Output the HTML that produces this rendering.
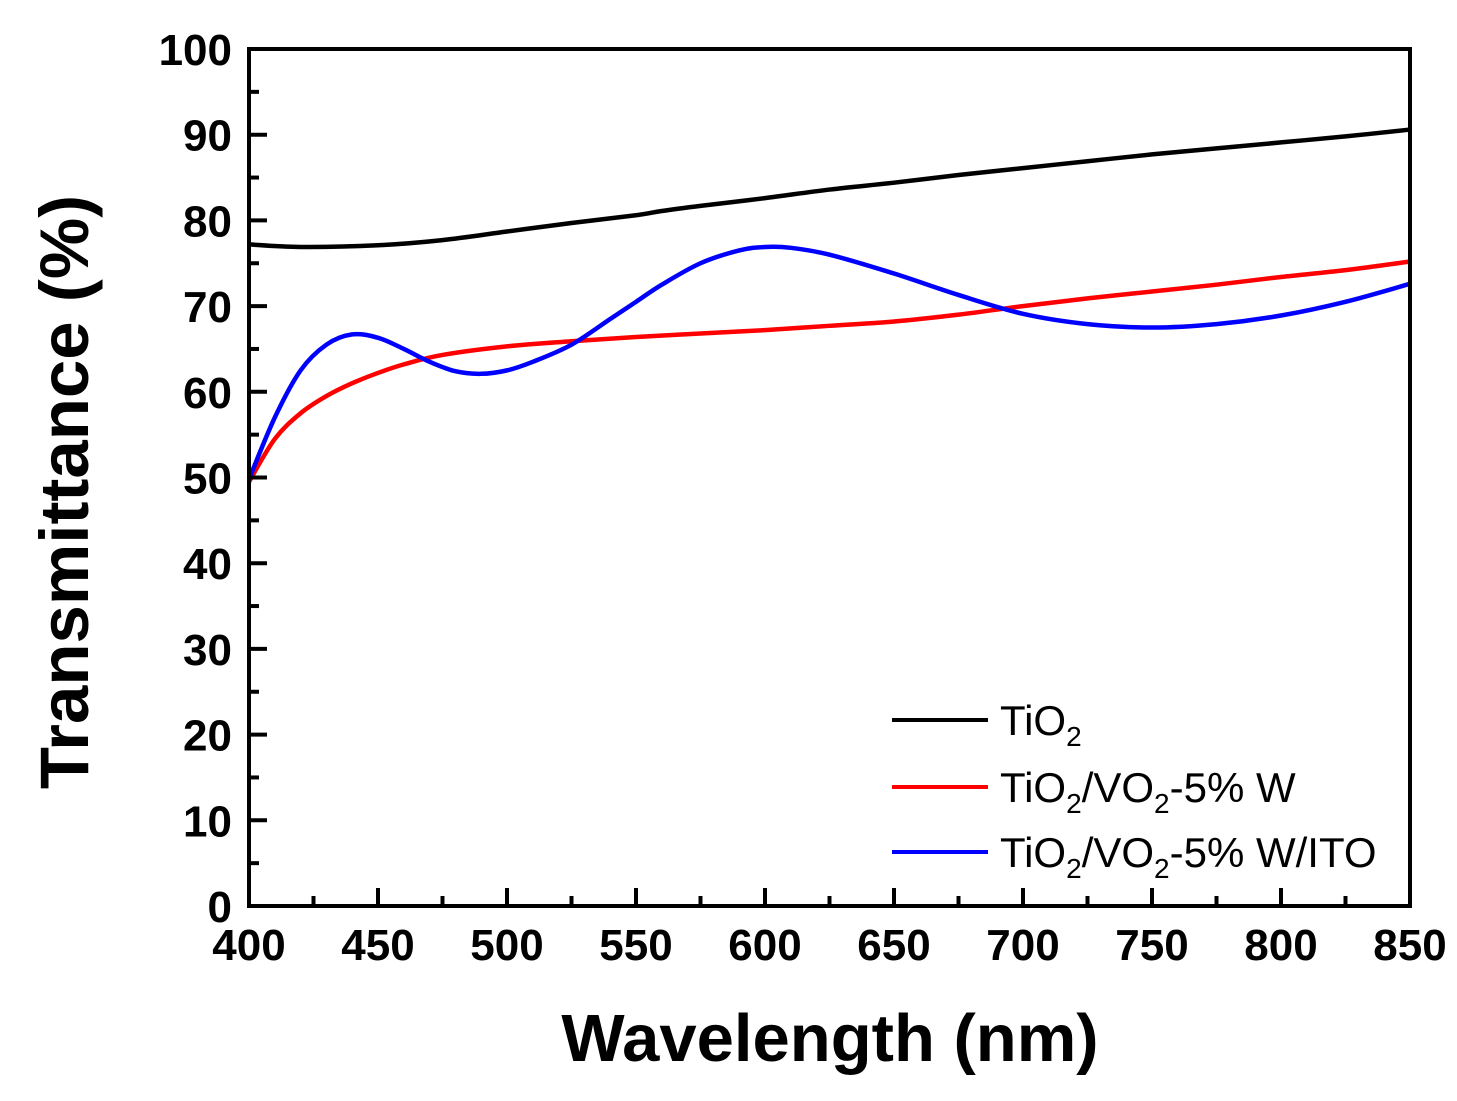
<!DOCTYPE html>
<html><head><meta charset="utf-8"><style>
html,body{margin:0;padding:0;background:#fff;}
svg{display:block;font-family:"Liberation Sans",Arial,sans-serif;}
</style></head><body>
<svg id="chart" width="1457" height="1101" viewBox="0 0 1457 1101" xmlns="http://www.w3.org/2000/svg">
<g id="grid"></g>
<g id="series"></g>
<rect x="249" y="49" width="1161" height="857" fill="none" stroke="#000" stroke-width="4"/>
<g id="axes"></g>
<text x="830" y="1061" font-size="67" font-weight="bold" text-anchor="middle">Wavelength (nm)</text>
<text transform="translate(88,492) rotate(-90)" font-size="69" font-weight="bold" text-anchor="middle">Transmittance (%)</text>
<g font-size="42">
  <line x1="892" x2="988" y1="720" y2="720" stroke="#000" stroke-width="4"/>
  <text x="1000" y="735">TiO<tspan font-size="28" dy="11">2</tspan></text>
  <line x1="892" x2="988" y1="787" y2="787" stroke="#f00" stroke-width="4"/>
  <text x="1000" y="802">TiO<tspan font-size="28" dy="11">2</tspan><tspan dy="-11">/VO</tspan><tspan font-size="28" dy="11">2</tspan><tspan dy="-11">-5% W</tspan></text>
  <line x1="892" x2="988" y1="852" y2="852" stroke="#00f" stroke-width="4"/>
  <text x="1000" y="867">TiO<tspan font-size="28" dy="11">2</tspan><tspan dy="-11">/VO</tspan><tspan font-size="28" dy="11">2</tspan><tspan dy="-11">-5% W/ITO</tspan></text>
</g>
</svg>
<script>
const xTicks = [400,450,500,550,600,650,700,750,800,850];
const yTicks = [0,10,20,30,40,50,60,70,80,90,100];
const tio2X = [400,420,450,475,500,525,550,560,575,600,625,650,675,700,725,750,775,800,825,850];
const tio2Y = [77.2,76.9,77.1,77.7,78.7,79.7,80.6,81.1,81.7,82.6,83.6,84.4,85.3,86.1,86.9,87.7,88.4,89.1,89.8,90.6];
const vo2X = [400,410,420,430,440,450,460,475,500,525,550,575,600,625,650,675,700,725,750,775,800,825,850];
const vo2Y = [49.5,54.5,57.5,59.5,61,62.2,63.2,64.3,65.3,65.9,66.4,66.8,67.2,67.7,68.2,69.0,70.0,70.9,71.7,72.5,73.4,74.2,75.2];
const itoX = [400,410,420,430,440,450,460,470,480,490,500,510,525,540,550,560,575,590,600,610,625,650,675,700,725,750,775,800,825,850];
const itoY = [49.8,57,62.5,65.5,66.7,66.3,65,63.5,62.4,62.1,62.5,63.5,65.5,68.5,70.5,72.5,75,76.5,76.9,76.8,76,73.8,71.3,69.1,67.9,67.5,67.9,68.9,70.5,72.6];
const X0=249,X1=1410,Y0=906,Y1=49;
const sx=v=>X0+(v-400)/(850-400)*(X1-X0);
const sy=v=>Y0-(v/100)*(Y0-Y1);
const NS="http://www.w3.org/2000/svg";
const axes=document.getElementById('axes');
function mk(tag,attrs,parent){const e=document.createElementNS(NS,tag);for(const k in attrs)e.setAttribute(k,attrs[k]);parent.appendChild(e);return e;}
for(let i=0;i<xTicks.length;i++){
  const x=sx(xTicks[i]);
  const t=mk('line',{x1:x,x2:x,y1:Y0,y2:Y0-18,stroke:'#000','stroke-width':4},axes);
  
  
  const l=mk('text',{x:x,y:960,'font-size':44,'font-weight':'bold','text-anchor':'middle'},axes);
  l.textContent=xTicks[i];
  
  
  if(i<xTicks.length-1){
    const xm=sx(xTicks[i]+25);
    const m=mk('line',{x1:xm,x2:xm,y1:Y0,y2:Y0-10,stroke:'#000','stroke-width':4},axes);
    
    
  }
}
for(let i=0;i<yTicks.length;i++){
  const y=sy(yTicks[i]);
  const t=mk('line',{x1:X0,x2:X0+18,y1:y,y2:y,stroke:'#000','stroke-width':4},axes);
  
  
  const l=mk('text',{x:232,y:y+16,'font-size':44,'font-weight':'bold','text-anchor':'end'},axes);
  l.textContent=yTicks[i];
  
  
  if(i<yTicks.length-1){
    const ym=sy(yTicks[i]+5);
    const m=mk('line',{x1:X0,x2:X0+10,y1:ym,y2:ym,stroke:'#000','stroke-width':4},axes);
    
    
  }
}
function smooth(xs,ys){
  const p=xs.map((x,i)=>[sx(x),sy(ys[i])]);
  let d='M'+p[0][0]+','+p[0][1];
  for(let i=0;i<p.length-1;i++){
    const p0=p[Math.max(0,i-1)],p1=p[i],p2=p[i+1],p3=p[Math.min(p.length-1,i+2)];
    const c1=[p1[0]+(p2[0]-p0[0])/6,p1[1]+(p2[1]-p0[1])/6];
    const c2=[p2[0]-(p3[0]-p1[0])/6,p2[1]-(p3[1]-p1[1])/6];
    d+=' C'+c1+' '+c2+' '+p2;
  }
  return d;
}
const sg=document.getElementById('series');
const s1=mk('path',{d:smooth(tio2X,tio2Y),fill:'none',stroke:'#000','stroke-width':4.5},sg);


const s2=mk('path',{d:smooth(vo2X,vo2Y),fill:'none',stroke:'#f00','stroke-width':4.5},sg);


const s3=mk('path',{d:smooth(itoX,itoY),fill:'none',stroke:'#00f','stroke-width':4.5},sg);


</script>
</body></html>
